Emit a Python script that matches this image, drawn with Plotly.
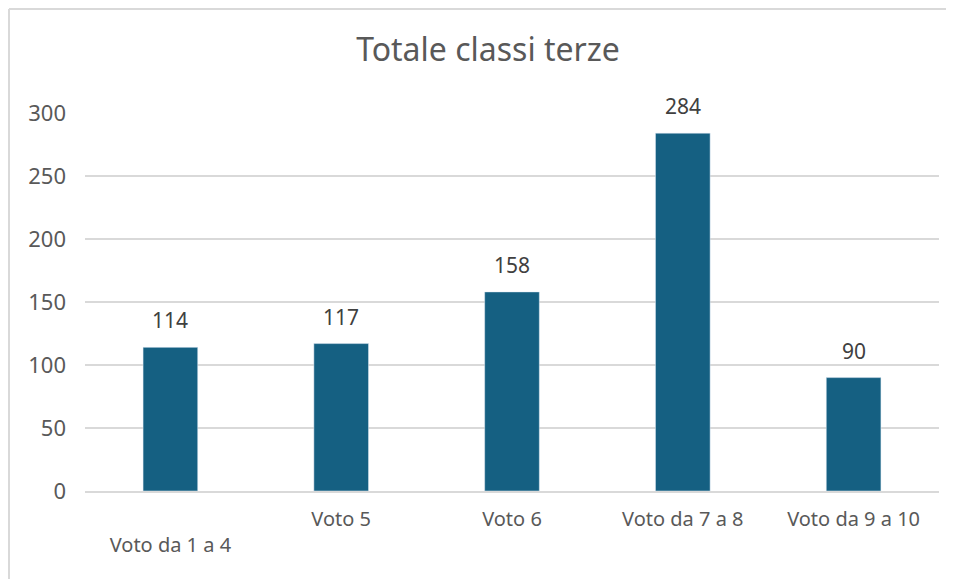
import plotly.graph_objects as go

# dati
categorie = ["Voto da 1 a 4", "Voto 5", "Voto 6", "Voto da 7 a 8", "Voto da 9 a 10"]
valori = [114, 117, 158, 284, 90]
# Excel sfalsa la prima etichetta su una seconda riga
etichette = ["&nbsp;<br>Voto da 1 a 4", "Voto 5", "Voto 6", "Voto da 7 a 8", "Voto da 9 a 10"]
y_ticks = [0, 50, 100, 150, 200, 250, 300]

# la pagina html ha un margine di 8px: tutte le misure sono spostate di 8
OFF = 8
W, H = 954 - OFF, 579 - OFF
ML, MR, MT, MB = 85 - OFF, 15, 113 - OFF, 579 - 491
GRIGIO = "#d9d9d9"
TESTO = "#595959"

fig = go.Figure(go.Bar(
    x=categorie,
    y=valori,
    marker_color="#156082",
    width=0.32,
    hoverinfo="x+y",
))

for c, v in zip(categorie, valori):
    fig.add_annotation(
        x=c, y=v, text=str(v), showarrow=False,
        yanchor="bottom", yshift=11,
        font=dict(family="Noto Sans", size=21, color="#404040"),
    )

fig.update_layout(
    width=W, height=H,
    margin=dict(l=ML, r=MR, t=MT, b=MB),
    plot_bgcolor="white",
    paper_bgcolor="white",
    showlegend=False,
    title=dict(
        text="Totale classi terze",
        x=(488 - OFF) / W, xref="container", xanchor="center",
        y=1 - (50 - OFF) / H, yref="container", yanchor="middle",
        font=dict(family="Noto Sans", size=32, color=TESTO),
    ),
)

fig.update_xaxes(
    tickmode="array", tickvals=categorie, ticktext=etichette,
    tickfont=dict(family="Noto Sans", size=20, color=TESTO),
    showgrid=False, showline=True, linecolor=GRIGIO, linewidth=2,
    ticks="", ticklabelstandoff=9,
)
fig.update_yaxes(
    range=[0, 300], tickvals=y_ticks,
    tickfont=dict(family="Noto Sans", size=22, color=TESTO),
    showgrid=True, gridcolor=GRIGIO, gridwidth=2,
    zeroline=False, showline=False, ticks="", ticklabelstandoff=18,
)

# bordo dell'area grafico e righe del foglio sullo sfondo (pixel della pagina)
def px_x(v):
    return (v - OFF - ML) / (W - ML - MR)

def px_y(v):
    return (H - MB - (v - OFF)) / (H - MT - MB)

linee = [dict(x0=px_x(9), x1=px_x(9), y0=px_y(9), y1=px_y(579)),
         dict(x0=px_x(9), x1=px_x(954), y0=px_y(9), y1=px_y(9))]
for yy in [27, 67, 105, 144, 183, 222, 260, 299, 337, 376, 414, 453, 492, 530, 569]:
    linee.append(dict(x0=px_x(0), x1=px_x(9), y0=px_y(yy), y1=px_y(yy)))
for l in linee:
    fig.add_shape(type="line", xref="paper", yref="paper",
                  line=dict(color=GRIGIO, width=2), layer="below", **l)

fig.write_html("out.html")
